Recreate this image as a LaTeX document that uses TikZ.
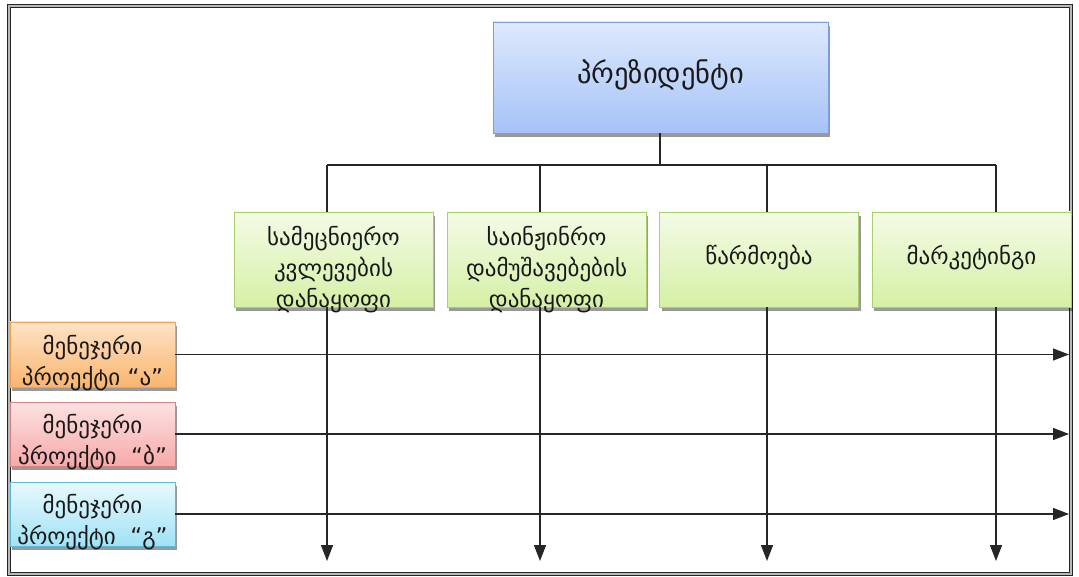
\documentclass[tikz,border=0pt]{standalone}
\usepackage{fontspec}
\newfontfamily\geo{DejaVu Sans}
\usetikzlibrary{arrows.meta,shadows}

\definecolor{blueTop}{HTML}{DEE9FC}
\definecolor{blueBot}{HTML}{A5C2F8}
\definecolor{blueEdge}{HTML}{7D9ED8}
\definecolor{greenTop}{HTML}{F4FBE6}
\definecolor{greenBot}{HTML}{D5F0A6}
\definecolor{greenEdge}{HTML}{A9CF6C}
\definecolor{orangeTop}{HTML}{FDE3C8}
\definecolor{orangeBot}{HTML}{FAB56E}
\definecolor{orangeEdge}{HTML}{F0A050}
\definecolor{redTop}{HTML}{FDE2E2}
\definecolor{redBot}{HTML}{F7A9A9}
\definecolor{redEdge}{HTML}{D58282}
\definecolor{cyanTop}{HTML}{E8F9FE}
\definecolor{cyanBot}{HTML}{A0E2F6}
\definecolor{cyanEdge}{HTML}{5CB8D6}

\tikzset{
  unit/.style={draw, line width=0.8pt, inner sep=0pt,
    drop shadow={shadow xshift=2pt, shadow yshift=-4pt, opacity=0.4, fill=black}},
  bluebox/.style={unit, draw=blueEdge, top color=blueTop, bottom color=blueBot},
  greenbox/.style={unit, draw=greenEdge, top color=greenTop, bottom color=greenBot,
    minimum width=199pt, minimum height=95pt},
  orangebox/.style={unit, draw=orangeEdge, top color=orangeTop, bottom color=orangeBot,
    minimum width=165pt, minimum height=65pt},
  redbox/.style={unit, draw=redEdge, top color=redTop, bottom color=redBot,
    minimum width=165pt, minimum height=64pt},
  cyanbox/.style={unit, draw=cyanEdge, top color=cyanTop, bottom color=cyanBot,
    minimum width=165pt, minimum height=64pt},
  label/.style={align=center, font=\geo\fontsize{23}{31}\selectfont, text=black!90, inner sep=0pt},
  biglabel/.style={align=center, font=\geo\fontsize{28.5}{31}\selectfont, text=black!90, inner sep=0pt},
  link/.style={draw=black!85, line width=1.3pt},
  flow/.style={link, -{Triangle[length=16pt,width=12pt]}},
}

\begin{document}
\begin{tikzpicture}[x=1pt,y=-1pt]
\useasboundingbox (0,0) rectangle (1079,577);

% outer double frame
\draw[draw=black!85, double=gray!55, line width=1pt, double distance=2pt]
  (8.5,6.5) rectangle (1070.5,573.5);

% president
\node[bluebox, minimum width=335pt, minimum height=111pt] (pres) at (660.5,77.5) {};
\node[biglabel] (tp) at (660.5,75) {პრეზიდენტი};

% divisions
\node[greenbox] (d1) at (333.5,259.5) {};
\node[greenbox] (d2) at (546.5,259.5) {};
\node[greenbox] (d3) at (759,259.5) {};
\node[greenbox] (d4) at (971.5,259.5) {};
\node[label] (t1) at (333.5,270) {სამეცნიერო\\კვლევების\\დანაყოფი};
\node[label] (t2) at (546.5,270) {საინჟინრო\\დამუშავებების\\დანაყოფი};
\node[label] (t3) at (759,258) {წარმოება};
\node[label] (t4) at (971.5,258) {მარკეტინგი};

% project managers
\node[orangebox] (m1) at (92.5,354.5) {};
\node[redbox] (m2) at (92.5,434) {};
\node[cyanbox] (m3) at (92.5,514) {};
\node[label] (u1) at (92.5,363) {მენეჯერი\\პროექტი “ა”};
\node[label] (u2) at (92.5,442) {მენეჯერი\\პროექტი ~“ბ”};
\node[label] (u3) at (92.5,522) {მენეჯერი\\პროექტი ~“გ”};

% bus and branch points
\coordinate (j) at (660,165);
\coordinate (b1) at (327,165);
\coordinate (b2) at (540,165);
\coordinate (b3) at (767,165);
\coordinate (b4) at (996,165);
\coordinate (e1) at (327,561);
\coordinate (e2) at (540,561);
\coordinate (e3) at (767,561);
\coordinate (e4) at (996,561);
\coordinate (h1) at (1069,354.5);
\coordinate (h2) at (1069,434);
\coordinate (h3) at (1069,514);

\draw[link] (pres.south -| j) -- (j);
\draw[link] (b1) -- (b4);
\foreach \i in {1,...,4} {
  \draw[link] (b\i) -- (b\i |- d\i.north);
}

% horizontal project flows
\draw[flow] (m1.east) -- (h1);
\draw[flow] (m2.east) -- (h2);
\draw[flow] (m3.east) -- (h3);

% vertical functional flows
\foreach \i in {1,...,4} {
  \draw[flow] (b\i |- d\i.south) -- (e\i);
}
\end{tikzpicture}
\end{document}
